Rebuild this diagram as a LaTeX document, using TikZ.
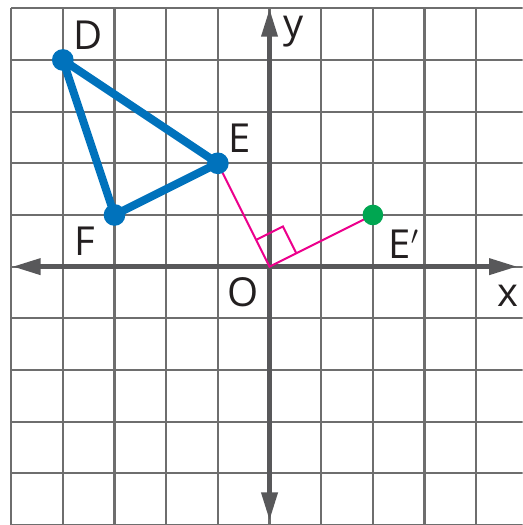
\documentclass[tikz,border=0pt]{standalone}
\usepackage{fontspec}
\setmainfont{Open Sans}
\usetikzlibrary{arrows.meta,calc}
\definecolor{blu}{HTML}{0072BC}
\definecolor{fucsia}{HTML}{EC008C}
\definecolor{verde}{HTML}{00A651}
\definecolor{griglia}{HTML}{6E6E6E}
\definecolor{assi}{HTML}{58585A}
\definecolor{testo}{HTML}{231F20}

\begin{document}
\begin{tikzpicture}[
            punto/.style={circle, fill=blu, inner sep=0pt, minimum size=0.42cm},
            etichetta/.style={font=\fontsize{22}{24}\selectfont, text=testo, inner sep=0pt},
            asse/.style={line width=2.8pt, color=assi,
                    {Triangle[length=0.55cm, width=0.3cm]}-{Triangle[length=0.55cm, width=0.3cm]}}
        ]
        \useasboundingbox (-5.216,-5.0) rectangle (4.90,5.16);
        \clip (-5.216,-5.0) rectangle (4.90,5.16);
        % Griglia e assi cartesiani
        \draw[griglia, line width=1.2pt] (-5,-5) grid (4.9,5);
        \coordinate (xsx) at (-4.98, 0);
        \coordinate (xdx) at ( 4.80, 0);
        \coordinate (ysu) at (0,  5.00);
        \coordinate (ygiu) at (0, -4.92);
        \draw[asse] (xsx) -- (xdx);
        \draw[asse] (ygiu) -- (ysu);

        \coordinate (O)  at ( 0, 0);
        \coordinate (D)  at (-4, 4);
        \coordinate (E)  at (-1, 2);
        \coordinate (F)  at (-3, 1);
        \coordinate (Ep) at ( 2, 1);

        % Rotazione di E attorno a O
        \draw[fucsia, line width=1.1pt] (E) -- (O) -- (Ep);
        \draw[fucsia, line width=1.1pt] ($(O)!0.58cm!(E)$)
        -- ($(O)!0.58cm!(E) + (O)!0.58cm!(Ep)$) -- ($(O)!0.58cm!(Ep)$);

        \draw[blu, line width=4.4pt, line join=round] (D) -- (E) -- (F) -- cycle;
        \node[punto] (pD) at (D) {};
        \node[punto] (pE) at (E) {};
        \node[punto] (pF) at (F) {};
        \node[punto, fill=verde, minimum size=0.4cm] (pEp) at (Ep) {};

        \node[etichetta] (lD)  at (-3.51, 4.48) {D};
        \node[etichetta] (lE)  at (-0.57, 2.49) {E};
        \node[etichetta] (lF)  at (-3.57, 0.50) {F};
        \node[etichetta] (lEp) at ( 2.60, 0.44) {E$'$};
        \node[etichetta] (lO)  at (-0.51,-0.49) {O};
        \node[etichetta] (lx)  at ( 4.61,-0.57) {x};
        \node[etichetta] (ly)  at ( 0.47, 4.55) {y};
    \end{tikzpicture}
\end{document}
